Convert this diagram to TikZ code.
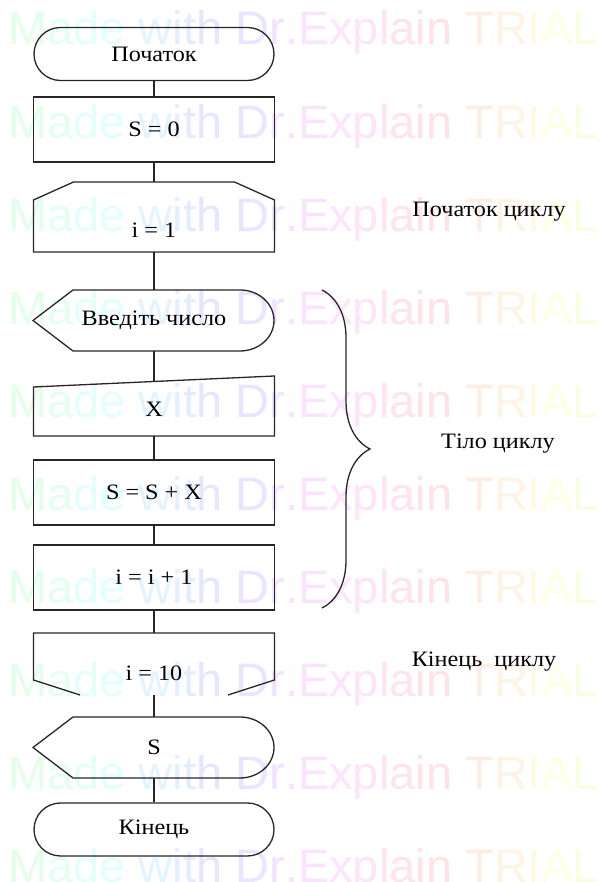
\documentclass[tikz,border=0pt]{standalone}
\usepackage{fontspec}
\setmainfont{Liberation Serif}[FakeStretch=1.1]
\newfontfamily\wmfont{Liberation Sans}
\usetikzlibrary{calc,decorations.pathreplacing}

% one pale letter of the background banner, hue in degrees
\newcommand\wmch[2]{\textcolor[Hsb]{#1,0.11,1}{#2}}
\newcommand\wmtext{\wmch{136}{M}\wmch{153}{a}\wmch{167}{d}\wmch{181}{e} \wmch{205}{w}\wmch{217}{i}\wmch{223}{t}\wmch{234}{h} \wmch{257}{D}\wmch{270}{r}\wmch{278}{.}\wmch{290}{E}\wmch{305}{x}\wmch{318}{p}\wmch{328}{l}\wmch{338}{a}\wmch{348}{i}\wmch{358}{n} \wmch{20}{T}\wmch{37}{R}\wmch{49}{I}\wmch{61}{A}\wmch{77}{L}}

\tikzset{
  flowline/.style={line width=1.3pt, draw=black!85},
  term/.style={flowline, rounded corners=26.5pt, minimum width=240pt, minimum height=53pt, inner sep=0pt},
  block/.style={flowline, minimum width=241pt, minimum height=65pt, inner sep=0pt},
  shapebox/.style={inner sep=0pt, minimum width=241pt, minimum height=61pt},
  wmark/.style={anchor=base west, inner sep=0pt, font=\wmfont\fontsize{47}{47}\selectfont},
}

\begin{document}
\begin{tikzpicture}[x=1pt,y=1pt,font=\fontsize{22}{24}\selectfont]
\useasboundingbox (0,0) rectangle (600,882);

\foreach \r in {0,...,9}
  \node[wmark] (wm\r) at (8,{837-93.1*\r}) {\wmtext};

\node[term] (start) at (154,828) {Початок};
\node[block] (s0) at (154,752.5) {S = 0};

% loop head
\node[inner sep=0pt] (lbeg) at (154,652) {i = 1};
\draw[flowline] ($(lbeg)+(-120.5,-22)$) -- ++(0,52) -- ++(40,18) -- ++(161,0) -- ++(40,-18) -- ++(0,-52) -- cycle;
\coordinate (lbeg top) at ($(lbeg)+(0,48)$);
\coordinate (lbeg bot) at ($(lbeg)+(0,-22)$);

\node[shapebox] (ask) at (154,561.5) {Введіть число};
\draw[flowline] ($(ask)+(-121,0)$) -- ++(40,30.5) -- ++(167,0) arc[start angle=90,end angle=-90,x radius=34,y radius=30.5] -- ++(-167,0) -- cycle;

\node[inner sep=0pt] (inp) at (154,473) {X};
\draw[flowline] ($(inp)+(-120.5,-27)$) -- ++(0,49) -- ++(241,11) -- ++(0,-60) -- cycle;
\coordinate (inp top) at ($(inp)+(0,27.5)$);
\coordinate (inp bot) at ($(inp)+(0,-27)$);

\node[block] (sum) at (154,389.5) {S = S + X};
\node[block] (inc) at (154,304.5) {i = i + 1};

% loop tail
\node[inner sep=0pt] (lend) at (154,209) {i = 10};
\draw[flowline] ($(lend)+(-74,-22)$) -- ++(-46.5,15) -- ++(0,47) -- ++(241,0) -- ++(0,-47) -- ++(-46.5,-15);
\coordinate (lend top) at ($(lend)+(0,40)$);
\coordinate (lend bot) at ($(lend)+(0,-22)$);

\node[shapebox] (out) at (154,134.5) {S};
\draw[flowline] ($(out)+(-121,0)$) -- ++(40,30.5) -- ++(167,0) arc[start angle=90,end angle=-90,x radius=34,y radius=30.5] -- ++(-167,0) -- cycle;

\node[term] (stop) at (154,52.5) {Кінець};

\draw[flowline] (start.south) -- (s0.north);
\draw[flowline] (s0.south) -- (lbeg top);
\draw[flowline] (lbeg bot) -- (ask.north);
\draw[flowline] (ask.south) -- (inp top);
\draw[flowline] (inp bot) -- (sum.north);
\draw[flowline] (sum.south) -- (inc.north);
\draw[flowline] (inc.south) -- (lend top);
\draw[flowline] (lend bot) -- (out.north);
\draw[flowline] (out.south) -- (stop.north);

% brace over the loop body
\coordinate (br top) at (322,592);
\coordinate (br bot) at (322,274);
\draw[flowline,decorate,decoration={brace,amplitude=48pt}] (br top) -- (br bot);

\node (head) at (489,670) {Початок циклу};
\node (body) at (498,438) {Тіло циклу};
\node (tail) at (484,220) {Кінець~~циклу};
\end{tikzpicture}
\end{document}
